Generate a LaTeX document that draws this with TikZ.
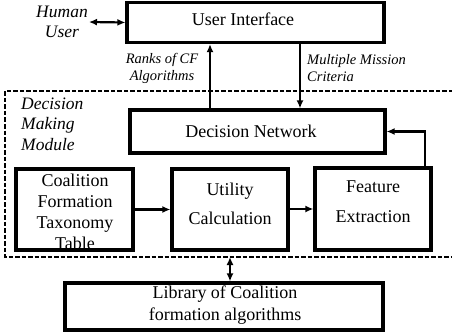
\documentclass[tikz,border=0pt]{standalone}
\usepackage{fontspec}
\setmainfont{Liberation Serif}
\usetikzlibrary{arrows.meta,calc}
\begin{document}
\begin{tikzpicture}[x=1pt,y=-1pt,
  box/.style={draw,line width=3.2pt,inner sep=0pt},
  boxtext/.style={align=center,inner sep=0pt,font=\fontsize{18}{21}\selectfont},
  lbl/.style={inner sep=0pt,font=\fontsize{14.5}{17}\selectfont\itshape},
  biglbl/.style={inner sep=0pt,font=\fontsize{17.5}{20.5}\selectfont\itshape},
  conn/.style={line width=2.2pt,-{Latex[length=8pt,width=7pt]}},
  bconn/.style={line width=2.2pt,{Latex[length=8pt,width=7pt]}-{Latex[length=8pt,width=7pt]}},
  module/.style={line width=2.6pt,dash pattern=on 4.5pt off 2pt}]
\useasboundingbox (0,0) rectangle (452,334);

% boxes
\node[box,minimum width=257pt,minimum height=40pt] (ui) at (255.5,22.5) {};
\node[box,minimum width=255pt,minimum height=43pt] (dn) at (257.5,131.5) {};
\node[box,minimum width=117pt,minimum height=81pt] (cftt) at (74.5,209.5) {};
\node[box,minimum width=116pt,minimum height=81pt] (uc) at (230,209.5) {};
\node[box,minimum width=116pt,minimum height=82pt] (fe) at (373,209) {};
\node[box,minimum width=318pt,minimum height=47pt] (lib) at (224,306.5) {};

% box texts
\node[boxtext] (uit) at (243,19) {User Interface};
\node[boxtext] (dnt) at (251,131) {Decision Network};
\node[boxtext] (cfttt) at (75,212) {Coalition\\Formation\\Taxonomy\\Table};
\node[boxtext,font=\fontsize{18}{29}\selectfont] (uct) at (230,204) {Utility\\Calculation};
\node[boxtext,font=\fontsize{18}{30}\selectfont] (fet) at (373,201.5) {Feature\\Extraction};
\node[boxtext,font=\fontsize{18}{22}\selectfont] (libt) at (225,305.5) {Library of Coalition\\formation algorithms};

% free labels
\node[biglbl,align=center] (human) at (62,22) {Human\\User};
\node[biglbl,align=left,anchor=west] (dmm) at (21,124) {Decision\\Making\\Module};
\node[lbl,align=center] (ranks) at (162,68) {Ranks of CF\\Algorithms};
\node[lbl,align=left,anchor=west] (crit) at (307,68) {Multiple Mission\\Criteria};

% decision making module boundary (open on the right)
\coordinate (mtr) at (453,91);
\coordinate (mtl) at (5,91);
\coordinate (mbl) at (5,257);
\coordinate (mbr) at (453,257);
\draw[module] (mtr) -- (mtl) -- (mbl) -- (mbr);

% connectors
\coordinate (hu) at (89,22);
\draw[bconn] (hu) -- (ui.west);
\coordinate (rx) at (210,0);
\coordinate (mx) at (300,0);
\draw[conn] (dn.north -| rx) -- (ui.south -| rx);
\draw[conn] (ui.south -| mx) -- (dn.north -| mx);
\draw[conn] (cftt.east) -- (uc.west |- cftt.east);
\draw[conn] (uc.east |- fe.west) -- (fe.west);
\coordinate (fbx) at (425,0);
\draw[conn] (fe.north -| fbx) |- (dn.east);
\coordinate (lx) at (230,0);
\draw[bconn] (mbl -| lx) -- (lib.north -| lx);
\end{tikzpicture}
\end{document}
